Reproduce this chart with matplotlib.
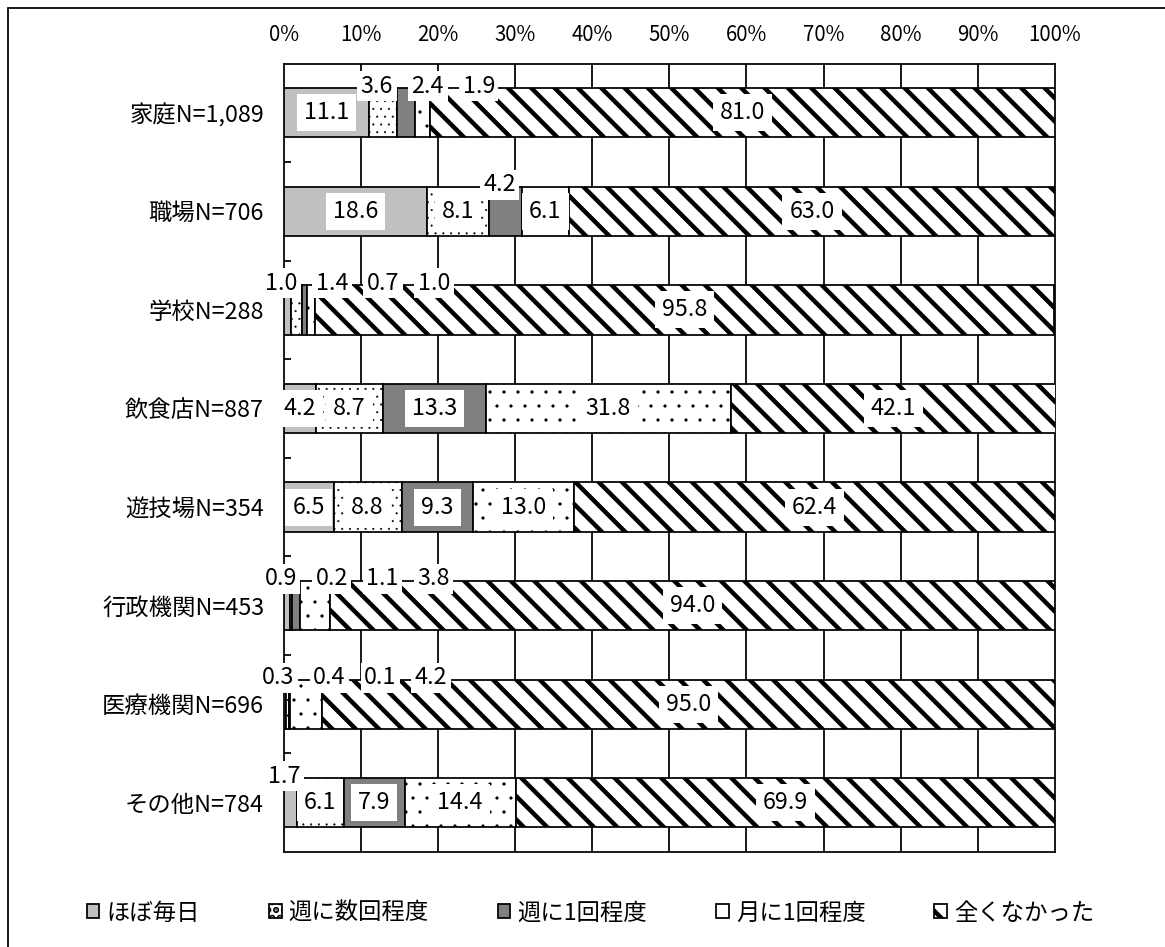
import matplotlib
matplotlib.use("Agg")
import matplotlib.pyplot as plt
from matplotlib.patches import Rectangle, Patch
from matplotlib import hatch as mhatch
import numpy as np

plt.rcParams['font.family'] = ['Noto Sans CJK JP', 'DejaVu Sans']

# ---- data ----
categories = ["家庭N=1,089", "職場N=706", "学校N=288", "飲食店N=887",
              "遊技場N=354", "行政機関N=453", "医療機関N=696", "その他N=784"]
series_names = ["ほぼ毎日", "週に数回程度", "週に1回程度", "月に1回程度", "全くなかった"]
daily      = [11.1, 18.6, 1.0, 4.2, 6.5, 0.9, 0.3, 1.7]
few_week   = [3.6, 8.1, 1.4, 8.7, 8.8, 0.2, 0.4, 6.1]
once_week  = [2.4, 4.2, 0.7, 13.3, 9.3, 1.1, 0.1, 7.9]
once_month = [1.9, 6.1, 1.0, 31.8, 13.0, 3.8, 4.2, 14.4]
never      = [81.0, 63.0, 95.8, 42.1, 62.4, 94.0, 95.0, 69.9]
xtick_labels = ["0%", "10%", "20%", "30%", "40%", "50%", "60%", "70%", "80%", "90%", "100%"]

# labels drawn above the bar (series indices per row)
outside_labels = [[1, 2, 3], [2], [0, 1, 2, 3], [], [], [0, 1, 2, 3], [0, 1, 2, 3], [0]]


# ---- custom dot hatch: '.' = sparse small dots, '...' = dense small dots ----
class CustomDots(mhatch.Circles):
    filled = True

    def __init__(self, hatch, density):
        n = hatch.count('.')
        if n == 1:
            self.num_rows, self.size = 10, 0.09
        elif n > 1:
            self.num_rows, self.size = n * density, 0.1
        else:
            self.num_rows, self.size = 0, 0.1
        super().__init__(hatch, density)


_idx = mhatch._hatch_types.index(mhatch.SmallFilledCircles)
mhatch._hatch_types[_idx] = CustomDots

# ---- styles ----
styles = [
    dict(color="#c0c0c0", hatch=None, hlw=1.0, leg_hatch=None),
    dict(color="white", hatch="...", hlw=0.25, leg_hatch="..."),
    dict(color="#808080", hatch=None, hlw=1.0, leg_hatch=None),
    dict(color="white", hatch=".", hlw=0.3, leg_hatch=None),
    dict(color="white", hatch="\\\\", hlw=2.3, leg_hatch="\\\\"),
]

W, H, DPI = 1165, 947, 140
fig = plt.figure(figsize=(W / DPI, H / DPI), dpi=DPI)
ax_left, ax_right, ax_top, ax_bottom = 283.5, 1055, 63.5, 852
ax = fig.add_axes([ax_left / W, 1 - ax_bottom / H, (ax_right - ax_left) / W, (ax_bottom - ax_top) / H])

y = np.arange(len(categories))
data = [daily, few_week, once_week, once_month, never]
left = np.zeros(len(categories))
handles = []
segs = []
for j, vals in enumerate(data):
    st = styles[j]
    plt.rcParams['hatch.linewidth'] = st["hlw"]
    bars = ax.barh(y, vals, left=left, height=0.5, color=st["color"], hatch=st["hatch"],
                   edgecolor="black", linewidth=0.9, zorder=3, label=series_names[j])
    for b in bars:
        if hasattr(b, "set_hatch_linewidth"):
            b.set_hatch_linewidth(st["hlw"])
    h = Patch(facecolor=st["color"], edgecolor="black", hatch=st["leg_hatch"], linewidth=0.9)
    if hasattr(h, "set_hatch_linewidth"):
        h.set_hatch_linewidth(st["hlw"])
    handles.append(h)
    segs.append((left.copy(), np.array(vals, dtype=float)))
    left = left + np.array(vals)

# data labels
bbox_in = dict(boxstyle="square,pad=0.3", fc="white", ec="none")
bbox_out = dict(boxstyle="square,pad=0.15", fc="white", ec="none")
for i in range(len(categories)):
    prev_x = None
    for j in range(len(data)):
        l0, v = segs[j][0][i], segs[j][1][i]
        c = l0 + v / 2
        txt = f"{v:.1f}"
        if j in outside_labels[i]:
            if prev_x is None:
                x = c - 0.8
            else:
                x = max(c, prev_x + 6.6)
            prev_x = x
            ax.text(x, i - 0.27, txt, ha="center", va="center", fontsize=12,
                    bbox=bbox_out, zorder=6)
        else:
            ax.text(c, i, txt, ha="center", va="center", fontsize=12,
                    bbox=bbox_in, zorder=5)

ax.set_xlim(0, 100)
ax.set_ylim(len(categories) - 0.5, -0.5)
ax.set_xticks(np.arange(0, 101, 10))
ax.set_xticklabels(xtick_labels, fontsize=10.5)
ax.xaxis.tick_top()
ax.tick_params(axis="x", length=0, pad=9)
ax.set_yticks(y)
ax.set_yticklabels(categories, fontsize=12)
ax.tick_params(axis="y", which="major", length=0, pad=10)
ax.set_yticks(np.arange(0.5, len(categories) - 0.5, 1), minor=True)
ax.tick_params(axis="y", which="minor", direction="in", length=3.5, width=0.9)
for x in range(10, 100, 10):
    ax.axvline(x, color="black", lw=0.9, zorder=1)
for s in ax.spines.values():
    s.set_color("black")
    s.set_linewidth(0.9)

fig.legend(handles=handles, labels=series_names, loc="center",
           bbox_to_anchor=(590.5 / W, 1 - 913 / H), ncol=5, frameon=False,
           handlelength=0.55, handleheight=0.55, handletextpad=0.3,
           columnspacing=2.95, fontsize=12)

fig.add_artist(Rectangle((8 / W, -0.01), 1.05, 1 - 8 / H + 0.01, transform=fig.transFigure,
                         fill=False, ec="black", lw=0.9))

fig.savefig("out.png", dpi=DPI)
